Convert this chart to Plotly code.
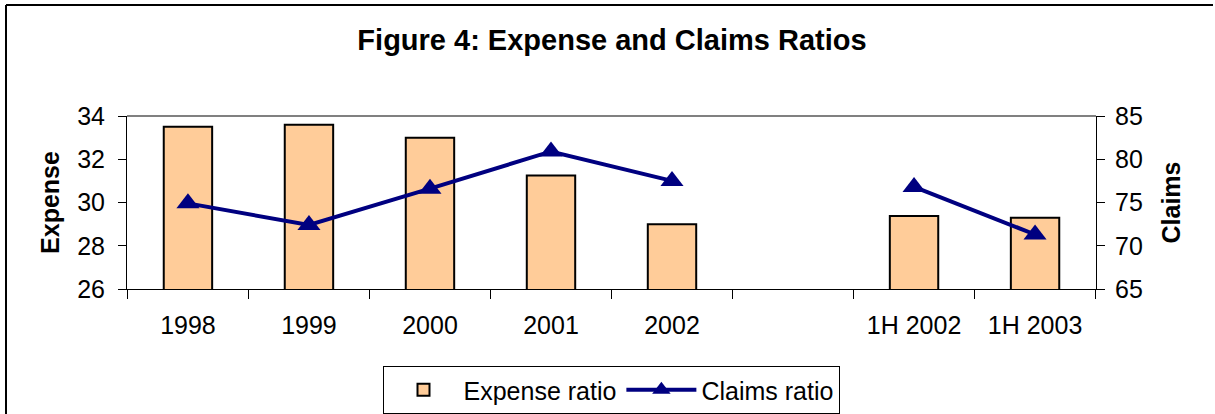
import plotly.graph_objects as go

categories = ["1998", "1999", "2000", "2001", "2002", " ", "1H 2002", "1H 2003"]
expense_ratio = [33.5, 33.6, 33.0, 31.25, 29.0, None, 29.37, 29.3]
claims_ratio = [74.9, 72.4, 76.6, 80.9, 77.5, None, 76.8, 71.3]

FONT = "Liberation Sans, Arial, sans-serif"

fig = go.Figure()
fig.add_trace(go.Bar(
    x=categories, y=expense_ratio, name="Expense ratio",
    marker=dict(color="#FFCC99", line=dict(color="black", width=2)),
    yaxis="y",
))
fig.add_trace(go.Scatter(
    x=categories, y=claims_ratio, name="Claims ratio", mode="lines+markers",
    line=dict(color="#000080", width=4),
    marker=dict(symbol="triangle-up", size=20, color="#000080"),
    connectgaps=False, yaxis="y2",
))

L, R, T, B = 127, 119, 116, 125
W, H = 1215, 414
pw = W - L - R
ph = H - T - B

bx = (6 - L) / pw
by = 1 + (T - 5) / ph
rx = (W - 2 - L) / pw
bot = -(B + 5) / ph

fig.update_layout(
    width=W, height=H,
    margin=dict(l=L, r=R, t=T, b=B, autoexpand=False),
    paper_bgcolor="white", plot_bgcolor="white",
    font=dict(family=FONT, size=25, color="black"),
    title=dict(text="<b>Figure 4: Expense and Claims Ratios</b>",
               x=(612 - L) / pw, xref="paper", xanchor="center",
               y=1 - 40 / H, yref="container", yanchor="middle",
               font=dict(family=FONT, size=29, color="black")),
    bargap=0.6,
    showlegend=True,
    legend=dict(orientation="h", x=(611 - L) / pw, xanchor="center",
                y=-(366 - T - ph) / ph, yanchor="top",
                bordercolor="black", borderwidth=1,
                font=dict(family=FONT, size=25, color="black"),
                itemwidth=70, tracegroupgap=0),
    xaxis=dict(type="category", showline=True, linecolor="black", linewidth=1,
               ticks="outside", tickson="boundaries", ticklen=9, tickcolor="black",
               showgrid=False, tickfont=dict(size=25), automargin=False,
               ticklabelstandoff=14),
    yaxis=dict(range=[26, 34], dtick=2, showline=True, linecolor="black",
               linewidth=1, ticks="outside", ticklen=8, tickcolor="black",
               showgrid=False, zeroline=False, automargin=False,
               ticklabelstandoff=8,
               title=dict(text="<b>Expense</b>", standoff=10,
                          font=dict(size=25))),
    yaxis2=dict(range=[65, 85], dtick=5, overlaying="y", side="right",
                showline=True, linecolor="black", linewidth=1,
                ticks="outside", ticklen=8, tickcolor="black",
                showgrid=False, zeroline=False, automargin=False,
                ticklabelstandoff=5,
                title=dict(text="<b>Claims</b>", standoff=20,
                           font=dict(size=25))),
    shapes=[
        dict(type="line", xref="paper", yref="paper", x0=0, x1=1, y0=1, y1=1,
             line=dict(color="#808080", width=2)),
        dict(type="line", xref="paper", yref="paper", x0=bx, x1=bx, y0=bot, y1=by,
             line=dict(color="black", width=2)),
        dict(type="line", xref="paper", yref="paper", x0=bx, x1=rx, y0=by, y1=by,
             line=dict(color="black", width=2)),
    ],
)

fig.write_html("out.html",
               config={"displayModeBar": False},
               post_script="document.body.style.margin='0';"
                           "document.body.style.overflow='hidden';")
